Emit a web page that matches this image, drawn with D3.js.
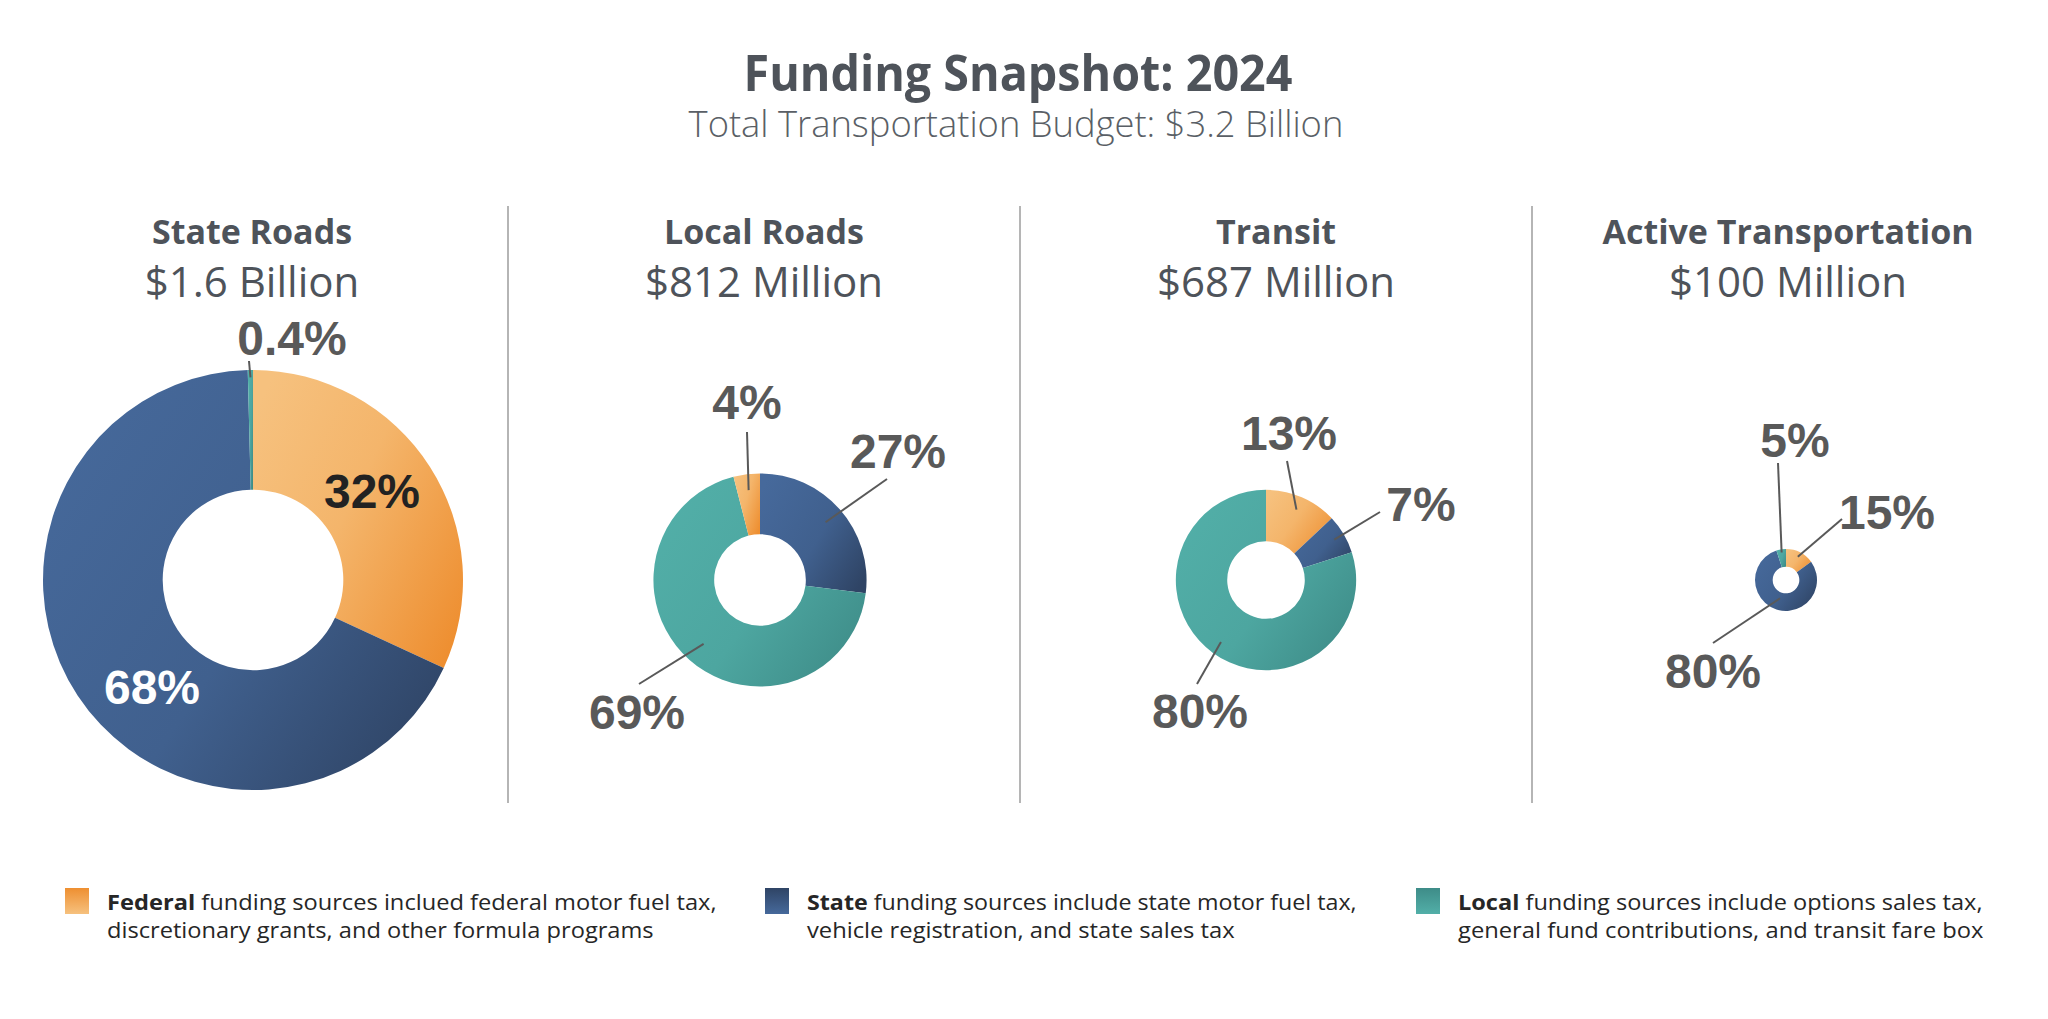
<!DOCTYPE html>
<html>
<head>
<meta charset="utf-8">
<script src="https://cdn.jsdelivr.net/npm/d3@7"></script>
<style>
  html, body { margin: 0; padding: 0; background: #ffffff; }
  svg { display: block; }
</style>
</head>
<body>
<svg id="chart" width="2048" height="1019"></svg>
<script>
// ---------------- DATA ----------------
const chartTitle = "Funding Snapshot: 2024";
const chartSubtitle = "Total Transportation Budget: $3.2 Billion";
const categories = ["State Roads", "Local Roads", "Transit", "Active Transportation"];
const budgetLabels = ["$1.6 Billion", "$812 Million", "$687 Million", "$100 Million"];
const budgetsMillions = [1600, 812, 687, 100];
const sources = ["Federal", "State", "Local"];
const federalPct = [32, 4, 13, 15];
const statePct = [68, 27, 7, 80];
const localPct = [0.4, 69, 80, 5];
const legendBold = ["Federal", "State", "Local"];
const legendLine1 = [
  " funding sources inclued federal motor fuel tax,",
  " funding sources include state motor fuel tax,",
  " funding sources include options sales tax,"
];
const legendLine2 = [
  "discretionary grants, and other formula programs",
  "vehicle registration, and state sales tax",
  "general fund contributions, and transit fare box"
];

// ---------------- LAYOUT / STYLE ----------------
const W = 2048, H = 1019;
const svg = d3.select("#chart");
const defs = svg.append("defs");

const gradColors = {
  Federal: ["#F6C17E", "#EE8F31"],
  State:   ["#46699B", "#2F4465"],
  Local:   ["#52AFA8", "#3E8C88"]
};
sources.forEach(s => {
  const g = defs.append("linearGradient").attr("id", "g-" + s)
    .attr("x1", 0).attr("y1", 0.15).attr("x2", 1).attr("y2", 0.85);
  g.append("stop").attr("offset", "0%").attr("stop-color", gradColors[s][0]);
  g.append("stop").attr("offset", s === "Federal" ? "45%" : "55%").attr("stop-color", d3.interpolateRgb(gradColors[s][0], gradColors[s][1])(0.25));
  g.append("stop").attr("offset", "100%").attr("stop-color", gradColors[s][1]);
  const v = defs.append("linearGradient").attr("id", "v-" + s)
    .attr("x1", 0).attr("y1", 0).attr("x2", 0).attr("y2", 1);
  v.append("stop").attr("offset", "0%").attr("stop-color", gradColors[s][1]);
  v.append("stop").attr("offset", "100%").attr("stop-color", gradColors[s][0]);
});

const titleColor = "#4E535A";
const labelColor = "#595959";

// per-panel slice order (index into sources), clockwise from 12 o'clock
const sliceOrder = [[0, 1, 2], [1, 2, 0], [0, 1, 2], [0, 1, 2]];
// per-panel donut x offset from panel center
const donutDx = [1, -4, -10, -2];
const donutCy = 580;
// label layout per panel, per source: text offset (tx, ty), leader start (lx, ly), leader end radius fraction (er), fill
const labelLayout = [
  { Federal: { tx: 119, ty: -72, fill: "#222222" },
    State:   { tx: -101, ty: 124, fill: "#ffffff" },
    Local:   { tx: 39, ty: -225, lx: -4, ly: -219, er: 0.965 } },
  { Federal: { tx: -13, ty: -161, lx: -13, ly: -148, er: 0.85 },
    State:   { tx: 138, ty: -112, lx: 127, ly: -101, er: 0.82 },
    Local:   { tx: -123, ty: 149, lx: -121, ly: 104, er: 0.80 } },
  { Federal: { tx: 23, ty: -130, lx: 21, ly: -119, er: 0.85 },
    State:   { tx: 155, ty: -59, lx: 114, ly: -68, er: 0.88 },
    Local:   { tx: -66, ty: 148, lx: -69, ly: 104, er: 0.85 } },
  { Federal: { tx: 101, ty: -51, lx: 56, ly: -61, er: 0.84 },
    State:   { tx: -73, ty: 108, lx: -73, ly: 63, er: 0.62 },
    Local:   { tx: 9, ty: -123, lx: -8, ly: -117, er: 0.9 } }
];

function fitWidth(sel, target) {
  const node = sel.node();
  const len = node.getComputedTextLength();
  const x = +sel.attr("x");
  const k = target / len;
  sel.attr("transform", `translate(${x},0) scale(${k},1) translate(${-x},0)`);
}

// ---------------- TITLE ----------------
const title = svg.append("text")
  .attr("x", 1018).attr("y", 91)
  .attr("text-anchor", "middle")
  .attr("font-family", "'Open Sans', sans-serif")
  .attr("font-weight", 700)
  .attr("font-size", 50)
  .attr("fill", titleColor)
  .text(chartTitle);
fitWidth(title, 549);

const subtitle = svg.append("text")
  .attr("x", 1016).attr("y", 137)
  .attr("text-anchor", "middle")
  .attr("font-family", "'Open Sans', sans-serif")
  .attr("font-weight", 300)
  .attr("font-size", 37)
  .attr("fill", "#5A5F66")
  .text(chartSubtitle);
fitWidth(subtitle, 655);

// ---------------- PANELS ----------------
const xBand = d3.scaleBand().domain(categories).range([-4, W - 4]);
const rScale = d3.scaleLinear().domain([0, 1600]).range([0, 210]);
const minRadius = 31;
const innerRatio = 0.43;

// dividers
svg.selectAll("line.divider")
  .data(categories.slice(1))
  .join("line")
  .attr("class", "divider")
  .attr("x1", d => xBand(d)).attr("x2", d => xBand(d))
  .attr("y1", 206).attr("y2", 803)
  .attr("stroke", "#B5B5B5").attr("stroke-width", 2);

const fmtPct = v => (v < 1 ? v.toFixed(1) : d3.format("d")(v)) + "%";

categories.forEach((cat, i) => {
  const pc = xBand(cat) + xBand.bandwidth() / 2;
  const g = svg.append("g");

  g.append("text")
    .attr("x", pc).attr("y", 244)
    .attr("text-anchor", "middle")
    .attr("font-family", "'Open Sans', sans-serif")
    .attr("font-weight", 700)
    .attr("font-size", 34)
    .attr("fill", titleColor)
    .text(cat);

  g.append("text")
    .attr("x", pc).attr("y", 297)
    .attr("text-anchor", "middle")
    .attr("font-family", "'Open Sans', sans-serif")
    .attr("font-weight", 400)
    .attr("font-size", 42)
    .attr("fill", titleColor)
    .text(budgetLabels[i]);

  const values = [federalPct[i], statePct[i], localPct[i]];
  const slices = sliceOrder[i].map(k => ({ source: sources[k], value: values[k] }));
  const R = Math.max(minRadius, rScale(budgetsMillions[i]));
  const r0 = R * innerRatio;
  const cx = pc + donutDx[i];

  const pie = d3.pie().sort(null).value(d => d.value);
  const arcs = pie(slices);
  const arc = d3.arc().innerRadius(r0).outerRadius(R);

  const dg = g.append("g").attr("transform", `translate(${cx},${donutCy})`);
  dg.selectAll("path")
    .data(arcs)
    .join("path")
    .attr("d", arc)
    .attr("fill", d => `url(#g-${d.data.source})`);

  // leaders
  arcs.forEach(a => {
    const L = labelLayout[i][a.data.source];
    if (L.lx !== undefined) {
      const rr = R * L.er;
      const end = d3.arc().innerRadius(rr).outerRadius(rr).centroid(a);
      dg.append("line")
        .attr("x1", L.lx).attr("y1", L.ly)
        .attr("x2", end[0]).attr("y2", end[1])
        .attr("stroke", labelColor).attr("stroke-width", 2);
    }
  });
  // labels
  arcs.forEach(a => {
    const L = labelLayout[i][a.data.source];
    dg.append("text")
      .attr("x", L.tx).attr("y", L.ty)
      .attr("text-anchor", "middle")
      .attr("font-family", "'Liberation Sans', Arial, sans-serif")
      .attr("font-weight", 700)
      .attr("font-size", 48)
      .attr("fill", L.fill || labelColor)
      .text(fmtPct(a.data.value));
  });
});

// ---------------- LEGEND ----------------
const legendX = [65, 765, 1416];
const legendW1 = [610, 550, 525];
const legendW2 = [547, 428, 526];
sources.forEach((s, i) => {
  const lg = svg.append("g");
  lg.append("rect")
    .attr("x", legendX[i]).attr("y", 888)
    .attr("width", 24).attr("height", 26)
    .attr("fill", `url(#v-${s})`);
  const tx = legendX[i] + 42;
  const t1 = lg.append("text")
    .attr("x", tx).attr("y", 910)
    .attr("font-family", "'Open Sans', sans-serif")
    .attr("font-size", 21)
    .attr("fill", "#262626");
  t1.append("tspan").attr("font-weight", 700).text(legendBold[i]);
  t1.append("tspan").attr("font-weight", 400).text(legendLine1[i]);
  fitWidth(t1, legendW1[i]);
  const t2 = lg.append("text")
    .attr("x", tx).attr("y", 938)
    .attr("font-family", "'Open Sans', sans-serif")
    .attr("font-size", 21)
    .attr("fill", "#262626")
    .text(legendLine2[i]);
  fitWidth(t2, legendW2[i]);
});
</script>
</body>
</html>
